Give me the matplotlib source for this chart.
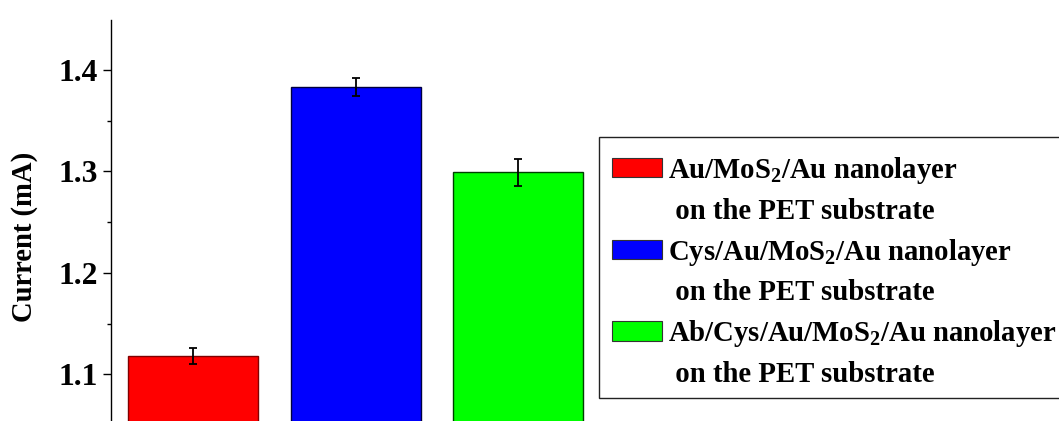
import matplotlib
matplotlib.use("Agg")
import matplotlib.pyplot as plt
from matplotlib.patches import Patch, Rectangle

plt.rcParams['font.family'] = 'Liberation Serif'
plt.rcParams['font.weight'] = 'bold'
plt.rcParams['mathtext.fontset'] = 'custom'
plt.rcParams['mathtext.rm'] = 'Liberation Serif:bold'
plt.rcParams['mathtext.bf'] = 'Liberation Serif:bold'
plt.rcParams['mathtext.it'] = 'Liberation Serif:bold'
plt.rcParams['mathtext.default'] = 'bf'

samples = ['Au/MoS$_2$/Au nanolayer', 'Cys/Au/MoS$_2$/Au nanolayer',
           'Ab/Cys/Au/MoS$_2$/Au nanolayer']
current = [1.118, 1.383, 1.299]
errors = [0.0075, 0.009, 0.0135]
colors = ['#ff0000', '#0000ff', '#00ff00']
edge_colors = ['#800000', '#000040', '#004000']
second_line = ' on the PET substrate'

W, H = 1059, 421
fig = plt.figure(figsize=(W / 100, H / 100), dpi=100)
ax = fig.add_axes([111 / W, 0.0, 1 - 111 / W, 1 - 20 / H])

x = [1, 2, 3]
ax.bar(x, current, width=0.8, color=colors, edgecolor=edge_colors, linewidth=1)
ax.errorbar(x, current, yerr=errors, fmt='none', ecolor='black',
            elinewidth=1.3, capsize=3, capthick=1.3)

ax.set_xlim(0.495, 6.33)
ax.set_ylim(1.054, 1.449)
ax.set_yticks([1.1, 1.2, 1.3, 1.4])
ax.set_yticks([1.15, 1.25, 1.35], minor=True)
ax.set_yticklabels(['1.1', '1.2', '1.3', '1.4'])
ax.tick_params(axis='y', which='major', length=5.8, width=1, labelsize=22.8, pad=3.5)
ax.tick_params(axis='y', which='minor', length=3, width=1)
ax.set_xticks([])
for s in ['top', 'right', 'bottom']:
    ax.spines[s].set_visible(False)
ax.spines['left'].set_linewidth(1)
ax.set_ylabel('Current (mA)', fontsize=20.6, fontweight='bold')
ax.yaxis.set_label_coords((38 - 111) / 948, 1 - (237 - 20) / 401)

handles = []
labels = []
for name, c in zip(samples, colors):
    handles.append(Patch(facecolor=c, edgecolor='#333333', linewidth=0.8))
    labels.append(name)
    handles.append(Patch(facecolor='none', edgecolor='none'))
    labels.append(second_line)

# legend box frame (runs off the right edge like the original)
fig.add_artist(Rectangle((599 / W, 1 - 398 / H), (1070 - 599) / W, (398 - 137) / H,
                         transform=fig.transFigure, facecolor='white',
                         edgecolor='#222222', linewidth=1, zorder=1))

leg = fig.legend(handles, labels, loc='upper left',
                 bbox_to_anchor=(612 / W, 1 - 155 / H),
                 fontsize=20.7, frameon=False,
                 handlelength=1.75, handleheight=0.65,
                 handletextpad=0.2, labelspacing=0.41, borderpad=0,
                 borderaxespad=0)
leg.set_zorder(2)

fig.savefig('out.png', dpi=100)
